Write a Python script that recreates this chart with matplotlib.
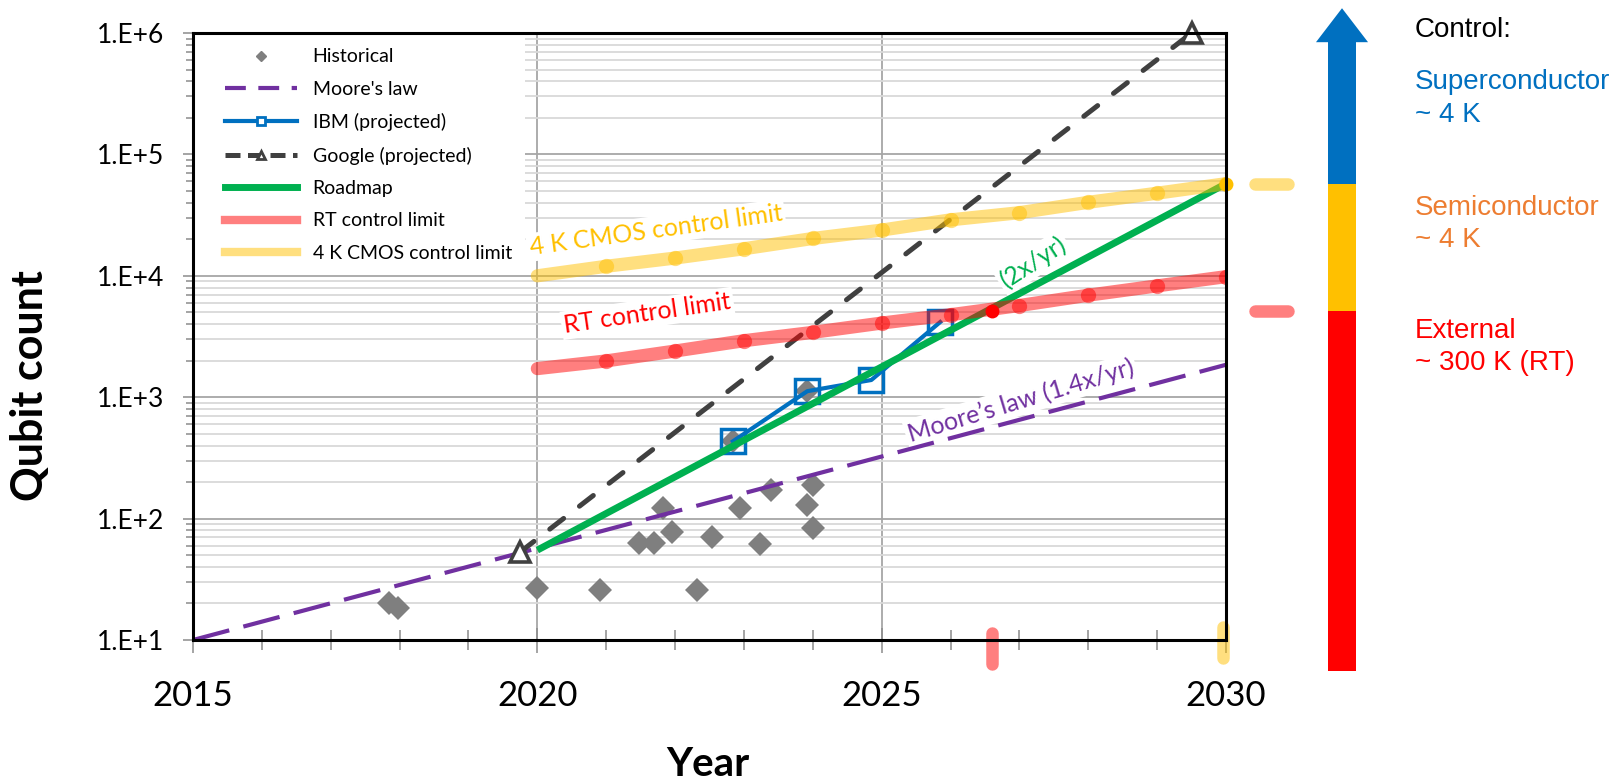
import matplotlib
matplotlib.use("Agg")
import matplotlib.pyplot as plt
import matplotlib.transforms as mtransforms
from matplotlib.lines import Line2D
from matplotlib.patches import Rectangle, Polygon
from matplotlib.ticker import MultipleLocator, LogLocator, NullFormatter

plt.rcParams['font.family'] = ['Lato', 'DejaVu Sans']

# --- data ---
hist_year = [2017.84, 2017.98, 2020.0, 2020.91, 2021.47, 2021.69, 2021.83, 2021.95, 2022.32,
             2022.53, 2022.84, 2022.95, 2023.23, 2023.40, 2023.92, 2023.92, 2024.0, 2024.0]
hist_qubits = [20, 18.3, 26.6, 25.6, 63, 63, 122, 77, 25.6,
               70, 433, 122, 62, 171, 129, 1121, 83, 190]

moore_year = [2015, 2030]
moore_qubits = [10, 1850]

google_year = [2019.75, 2029.5]
google_qubits = [53, 1e6]

ibm_year = [2022.84, 2023.92, 2024.85, 2025.85]
ibm_qubits = [433, 1121, 1386, 4158]

roadmap_year = [2020, 2030]
roadmap_qubits = [55, 57400]

limit_year = [2020, 2021, 2022, 2023, 2024, 2025, 2026, 2027, 2028, 2029, 2030]
rt_limit = [1720, 1990, 2400, 2920, 3420, 4080, 4780, 5690, 6920, 8260, 9840]
cmos_limit = [10000, 11980, 14000, 16700, 20300, 23800, 28900, 33100, 40300, 47900, 57400]

# where the roadmap crosses each control limit
rt_cross_year, rt_cross_qubits = 2026.6, 5150
cmos_cross_year, cmos_cross_qubits = 2030, 57400

x_ticks = [2015, 2020, 2025, 2030]
y_ticks = [1e1, 1e2, 1e3, 1e4, 1e5, 1e6]
y_tick_labels = ['1.E+1', '1.E+2', '1.E+3', '1.E+4', '1.E+5', '1.E+6']

# colours
PURPLE = '#7030A0'
DARK = '#404040'
BLUE = '#0070C0'
GREEN = '#00B050'
GRAY = '#7F7F7F'

W, H = 1617, 779
fig = plt.figure(figsize=(W / 100, H / 100), dpi=100)
ax = fig.add_axes([193 / W, 1 - 640 / H, (1226 - 193) / W, (640 - 33) / H])
ax.set_yscale('log')
ax.set_xlim(2015, 2030)
ax.set_ylim(1e1, 1e6)

# grid
ax.grid(which='major', axis='y', color='#A6A6A6', lw=1.3, zorder=0)
ax.grid(which='minor', axis='y', color='#D9D9D9', lw=1.3, zorder=0)
ax.grid(which='major', axis='x', color='#A6A6A6', lw=1.3, zorder=0)
ax.set_axisbelow(True)

# white panel behind the legend (hides the grid like the Excel legend box)
ax.add_patch(Rectangle((0, 0.605), 0.321, 0.395, transform=ax.transAxes,
                       facecolor='white', edgecolor='none', zorder=1))

# series
ax.plot(hist_year, hist_qubits, 'D', color=GRAY, ms=12, mew=0, zorder=2)
ax.plot(moore_year, moore_qubits, color=PURPLE, lw=3, dashes=(9, 3.5), zorder=3)
ax.plot(google_year, google_qubits, color=DARK, lw=3.6, dashes=(3.5, 4), dash_capstyle='round',
        marker='^', ms=15, mfc='white', mec=DARK, mew=2.6, clip_on=False, zorder=4)
ax.plot(ibm_year, ibm_qubits, color=BLUE, lw=3, marker='s', ms=17, mfc='none', mec=BLUE,
        mew=2.5, zorder=5)
ax.plot(roadmap_year, roadmap_qubits, color=GREEN, lw=5, solid_capstyle='butt', zorder=6)
ax.plot(limit_year, rt_limit, color='red', alpha=0.5, lw=9.5, solid_capstyle='round',
        marker='o', ms=11, mew=0, markevery=slice(1, None), zorder=7)
ax.plot(limit_year, cmos_limit, color='#FFC000', alpha=0.5, lw=9.5, solid_capstyle='round',
        marker='o', ms=11, mew=0, markevery=slice(1, None), zorder=7)
ax.plot([rt_cross_year], [rt_cross_qubits], 'o', color='red', ms=10, mew=0, zorder=8)
ax.plot([cmos_cross_year], [cmos_cross_qubits], 'o', color='#FFC000', ms=10, mew=0,
        clip_on=False, zorder=8)

# labels on the lines
lbl = dict(ha='center', va='center', rotation_mode='anchor', fontsize=18,
           bbox=dict(facecolor='white', edgecolor='none', pad=2), zorder=1.5)
ax.text(2021.72, 23700, '4 K CMOS control limit', color='#FFC000', rotation=7.8, **lbl)
ax.text(2021.6, 4900, 'RT control limit', color='red', rotation=8.3, **lbl)
ax.text(2027.2, 12900, '(2x/yr)', color=GREEN, rotation=33, **lbl)
ax.text(2027.02, 938, 'Moore\u2019s law (1.4x/yr)', color=PURPLE, rotation=16.8, **lbl)

# marks outside the axes showing the crossover levels / years
xblend = mtransforms.blended_transform_factory(ax.transData, ax.transAxes)
ax.plot([rt_cross_year] * 2, [0.0115, -0.0395], transform=xblend, color='red', alpha=0.5,
        lw=9, solid_capstyle='round', clip_on=False)
ax.plot([cmos_cross_year - 0.04] * 2, [0.0214, -0.0297], transform=xblend, color='#FFC000',
        alpha=0.5, lw=9, solid_capstyle='round', clip_on=False)
ax.plot([2030.42, 2030.9], [cmos_cross_qubits] * 2, color='#FFC000', alpha=0.5, lw=9,
        solid_capstyle='round', clip_on=False)
ax.plot([2030.42, 2030.9], [rt_cross_qubits] * 2, color='red', alpha=0.5, lw=9,
        solid_capstyle='round', clip_on=False)

# control-type arrow on the right
yblend = mtransforms.blended_transform_factory(ax.transAxes, ax.transData)
bar_x0, bar_x1 = 1.0987, 1.1258
head_x0, head_x1 = 1.0871, 1.1375
arrow_bottom, head_base, arrow_tip = 5.55, 8.4e5, 1.6e6
segments = [(arrow_bottom, rt_cross_qubits, 'red'),
            (rt_cross_qubits, cmos_cross_qubits, '#FFC000'),
            (cmos_cross_qubits, head_base, BLUE)]
for y0, y1, c in segments:
    ax.add_patch(Rectangle((bar_x0, y0), bar_x1 - bar_x0, y1 - y0, transform=yblend,
                           facecolor=c, edgecolor='none', clip_on=False))
ax.add_patch(Polygon([(head_x0, head_base), (head_x1, head_base),
                      ((head_x0 + head_x1) / 2, arrow_tip)], closed=True, transform=yblend,
                     facecolor=BLUE, edgecolor='none', clip_on=False))

side = dict(fontsize=20, family=['Liberation Sans', 'DejaVu Sans'], va='baseline', ha='left')
tx = 1415 / W
fig.text(tx, 1 - 37 / H, 'Control:', color='black', **side)
fig.text(tx, 1 - 89 / H, 'Superconductor', color=BLUE, **side)
fig.text(tx, 1 - 122 / H, '~ 4 K', color=BLUE, **side)
fig.text(tx, 1 - 215 / H, 'Semiconductor', color='#ED7D31', **side)
fig.text(tx, 1 - 247 / H, '~ 4 K', color='#ED7D31', **side)
fig.text(tx, 1 - 338 / H, 'External', color='red', **side)
fig.text(tx, 1 - 370 / H, '~ 300 K (RT)', color='red', **side)

# axes styling
for s in ax.spines.values():
    s.set_color('black')
    s.set_linewidth(2.2)
    s.set_zorder(9)

ax.set_xticks(x_ticks)
ax.set_xticklabels([str(v) for v in x_ticks])
ax.xaxis.set_minor_locator(MultipleLocator(1))
ax.tick_params(axis='x', which='major', direction='inout', length=18, width=1.1,
               color='#8C8C8C', labelsize=25, pad=20)
ax.tick_params(axis='x', which='minor', direction='inout', length=14, width=1.1,
               color='#8C8C8C')
ax.set_yticks(y_ticks, y_tick_labels)
ax.yaxis.set_minor_locator(LogLocator(base=10, subs=range(2, 10)))
ax.yaxis.set_minor_formatter(NullFormatter())
ax.tick_params(axis='y', which='major', direction='out', length=7, width=1.1,
               color='#8C8C8C', labelsize=19, pad=14)
ax.tick_params(axis='y', which='minor', direction='out', length=5, width=1.1,
               color='#8C8C8C')

fig.text(30 / W, 1 - 386 / H, 'Qubit count', rotation=90, ha='center', va='center',
         fontsize=31, fontweight='bold')
fig.text(708 / W, 1 - 746 / H, 'Year', ha='center', va='top', fontsize=29, fontweight='bold')

# legend with small Excel-like markers
handles = [
    Line2D([], [], ls='none', marker='D', ms=5, color=GRAY),
    Line2D([], [], color=PURPLE, lw=3, dashes=(5, 3)),
    Line2D([], [], color=BLUE, lw=3, marker='s', ms=6, mfc='white', mec=BLUE, mew=2),
    Line2D([], [], color=DARK, lw=3.6, dashes=(3, 1.5), marker='^', ms=6, mfc='white',
           mec=DARK, mew=2),
    Line2D([], [], color=GREEN, lw=5),
    Line2D([], [], color='red', alpha=0.5, lw=6),
    Line2D([], [], color='#FFC000', alpha=0.5, lw=6),
]
names = ['Historical', "Moore's law", 'IBM (projected)', 'Google (projected)', 'Roadmap',
         'RT control limit', '4 K CMOS control limit']
leg = ax.legend(handles, names, loc='upper left', bbox_to_anchor=(0.031, 0.9746),
                borderaxespad=0, borderpad=0, fontsize=14, handlelength=3.7,
                handletextpad=0.8, labelspacing=0.79, frameon=False)
leg.set_zorder(8.5)

fig.savefig('out.png', dpi=100)
